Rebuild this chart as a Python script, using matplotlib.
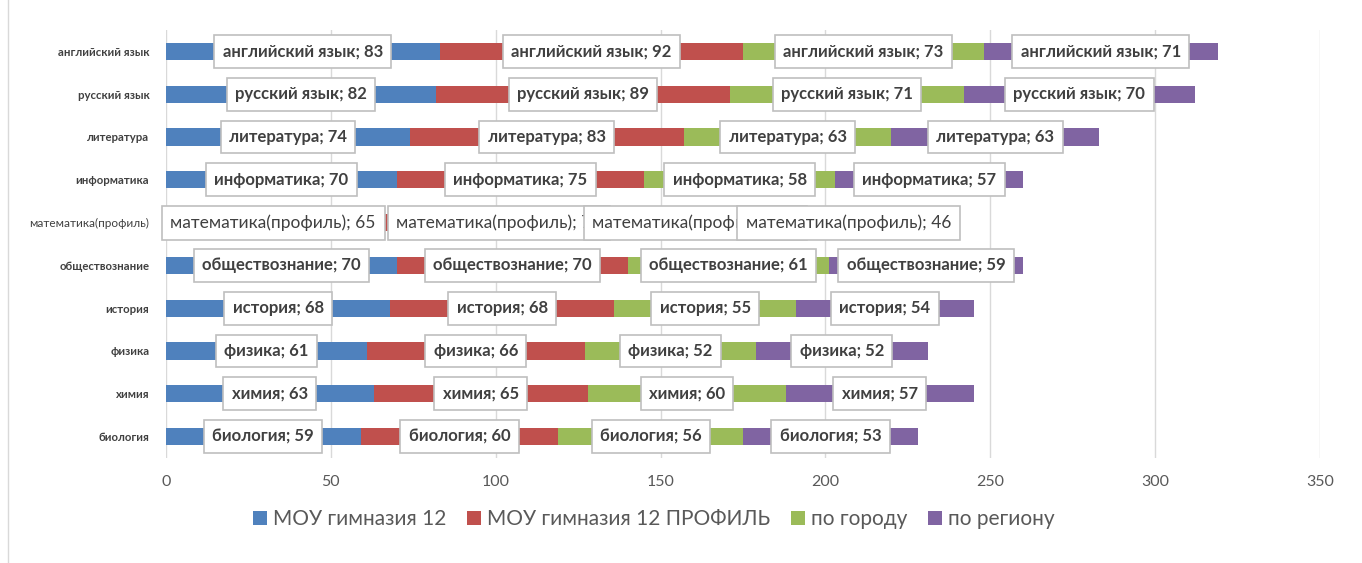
import matplotlib.pyplot as plt
from matplotlib.patches import Rectangle
import numpy as np

plt.rcParams['font.family'] = ['Lato', 'DejaVu Sans']

# данные (сверху вниз)
subjects = ['английский язык', 'русский язык', 'литература', 'информатика',
            'математика(профиль)', 'обществознание', 'история', 'физика',
            'химия', 'биология']
school = [83, 82, 74, 70, 65, 70, 68, 61, 63, 59]
school_prof = [92, 89, 83, 75, 72, 70, 68, 66, 65, 60]
city = [73, 71, 63, 58, 47, 61, 55, 52, 60, 56]
region = [71, 70, 63, 57, 46, 59, 54, 52, 57, 53]

series_names = ['МОУ гимназия 12', 'МОУ гимназия 12 ПРОФИЛЬ', 'по городу', 'по региону']
colors = ['#4F81BD', '#C0504D', '#9BBB59', '#8064A2']
text_col = '#404040'
tick_col = '#595959'
narrow = ['Liberation Sans Narrow', 'Lato']

fig = plt.figure(figsize=(13.62, 5.63), dpi=100)
ax = fig.add_axes([166 / 1362, 1 - 458 / 563, 1154 / 1362, 428 / 563])

# рамка области диаграммы
fig.patches.append(Rectangle((8 / 1362, -0.1), 1.2, 1.2, transform=fig.transFigure,
                             fill=False, edgecolor='#D9D9D9', lw=1))

y = np.arange(len(subjects))[::-1]
left = np.zeros(len(subjects))
for name, vals, c in zip(series_names, [school, school_prof, city, region], colors):
    vals = np.array(vals, dtype=float)
    ax.barh(y, vals, left=left, height=0.4, color=c, label=name, zorder=2)
    for yi, subj, v, l in zip(y, subjects, vals, left):
        is_math = subj.startswith('математика')
        ax.text(l + v / 2, yi, f'{subj}; {int(v)}', ha='center', va='center',
                fontsize=12.5 if is_math else 12, color=text_col,
                family=narrow if is_math else ['Lato'],
                fontweight='normal' if is_math else 'bold', zorder=5,
                bbox=dict(boxstyle='square,pad=0.5', fc='white', ec='#BFBFBF', lw=1.2))
    left += vals

ax.set_xlim(0, 350)
ax.set_ylim(-0.5, len(subjects) - 0.5)
ax.set_xticks(range(0, 351, 50))
ax.set_yticks(y)
ax.set_yticklabels(subjects, fontsize=8.2, fontweight='bold', color=text_col)
for t in ax.get_yticklabels():
    if t.get_text().startswith('математика'):
        t.set_family(narrow)
        t.set_fontweight('normal')
        t.set_fontsize(8.5)
ax.tick_params(axis='x', labelsize=11.5, labelcolor=tick_col, length=0, pad=12)
ax.tick_params(axis='y', length=0, pad=12)
ax.grid(axis='x', color='#D9D9D9', lw=1, zorder=0)
ax.set_axisbelow(True)
for s in ax.spines.values():
    s.set_visible(False)

leg = fig.legend(loc='center', bbox_to_anchor=(654 / 1362, 1 - 519 / 563), ncol=4, frameon=False,
                 fontsize=15, handlelength=0.65, handleheight=0.65, handletextpad=0.3,
                 columnspacing=1.0)
for t in leg.get_texts():
    t.set_color(tick_col)

fig.savefig('out.png', dpi=100)
